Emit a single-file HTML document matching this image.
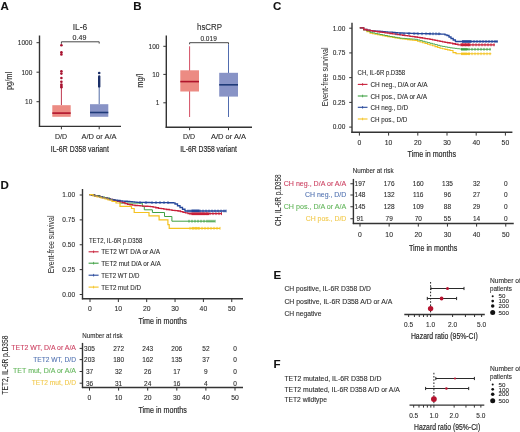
<!DOCTYPE html><html><head><meta charset="utf-8"><style>html,body{margin:0;padding:0;background:#fff;width:520px;height:432px;overflow:hidden}svg{display:block;filter:blur(0.4px)}text{font-family:"Liberation Sans",sans-serif;fill:currentColor;stroke:currentColor;stroke-width:0.1px}svg{color:#2b2b2b}</style></head><body>
<svg width="520" height="432" viewBox="0 0 520 432">
<text x="0.40" y="10.00" font-size="11.5" color="#111" font-weight="bold">A</text>
<text x="80.00" y="30.06" font-size="8.5" text-anchor="middle" textLength="14.6" lengthAdjust="spacingAndGlyphs">IL-6</text>
<text x="79.50" y="39.74" font-size="6.5" text-anchor="middle" textLength="13.8" lengthAdjust="spacingAndGlyphs">0.49</text>
<path d="M61.4,43.8 V41.8 H99.2 V43.6" fill="none" stroke="#333" stroke-width="0.9"/>
<line x1="39.50" y1="35.50" x2="39.50" y2="126.90" stroke="#333" stroke-width="1.4"/>
<line x1="38.90" y1="126.40" x2="121.00" y2="126.40" stroke="#333" stroke-width="1.4"/>
<line x1="36.50" y1="42.70" x2="39.50" y2="42.70" stroke="#333" stroke-width="1.0"/>
<text x="32.30" y="45.04" font-size="6.5" text-anchor="end">1000</text>
<line x1="36.50" y1="72.20" x2="39.50" y2="72.20" stroke="#333" stroke-width="1.0"/>
<text x="32.30" y="74.54" font-size="6.5" text-anchor="end">100</text>
<line x1="36.50" y1="101.70" x2="39.50" y2="101.70" stroke="#333" stroke-width="1.0"/>
<text x="32.30" y="104.04" font-size="6.5" text-anchor="end">10</text>
<line x1="61.40" y1="126.40" x2="61.40" y2="129.30" stroke="#333" stroke-width="1.0"/>
<line x1="99.20" y1="126.40" x2="99.20" y2="129.30" stroke="#333" stroke-width="1.0"/>
<text x="61.00" y="139.04" font-size="6.5" text-anchor="middle" textLength="12" lengthAdjust="spacingAndGlyphs">D/D</text>
<text x="99.00" y="138.84" font-size="6.5" text-anchor="middle" textLength="35" lengthAdjust="spacingAndGlyphs">A/D or A/A</text>
<text x="79.85" y="151.90" font-size="9.2" text-anchor="middle" textLength="58.1" lengthAdjust="spacingAndGlyphs" style="stroke-width:0.2px">IL-6R D358 variant</text>
<text x="0" y="0" font-size="9" text-anchor="middle" textLength="18.1" lengthAdjust="spacingAndGlyphs" transform="translate(11.7 80.95) rotate(-90)">pg/ml</text>
<line x1="61.40" y1="87.50" x2="61.40" y2="105.20" stroke="#b8243c" stroke-width="0.9"/>
<rect x="52.30" y="105.20" width="18.40" height="11.60" fill="#ec8b83"/>
<line x1="52.30" y1="113.10" x2="70.70" y2="113.10" stroke="#b0142c" stroke-width="1.6"/>
<circle cx="61.40" cy="45.20" r="1.3" fill="#a8122f"/>
<circle cx="61.40" cy="52.20" r="1.3" fill="#a8122f"/>
<circle cx="61.40" cy="54.40" r="1.3" fill="#a8122f"/>
<circle cx="61.40" cy="71.20" r="1.3" fill="#a8122f"/>
<circle cx="61.40" cy="73.60" r="1.3" fill="#a8122f"/>
<circle cx="61.40" cy="78.00" r="1.3" fill="#a8122f"/>
<circle cx="61.40" cy="81.80" r="1.3" fill="#a8122f"/>
<circle cx="61.40" cy="84.50" r="1.3" fill="#a8122f"/>
<circle cx="61.40" cy="85.90" r="1.3" fill="#a8122f"/>
<circle cx="61.40" cy="87.30" r="1.3" fill="#a8122f"/>
<line x1="99.20" y1="86.00" x2="99.20" y2="104.20" stroke="#3d5a9c" stroke-width="0.9"/>
<rect x="90.00" y="104.20" width="18.30" height="12.60" fill="#8893c6"/>
<line x1="90.00" y1="112.50" x2="108.30" y2="112.50" stroke="#1f3a78" stroke-width="1.6"/>
<circle cx="99.20" cy="73.00" r="1.3" fill="#1b2f68"/>
<line x1="99.2" y1="76.4" x2="99.2" y2="86.4" stroke="#1b2f68" stroke-width="2.4" stroke-linecap="round"/>
<text x="133.20" y="9.80" font-size="11.5" color="#111" font-weight="bold">B</text>
<text x="209.50" y="30.06" font-size="8.5" text-anchor="middle" textLength="25" lengthAdjust="spacingAndGlyphs">hsCRP</text>
<text x="208.60" y="40.74" font-size="6.5" text-anchor="middle" textLength="16.4" lengthAdjust="spacingAndGlyphs">0.019</text>
<path d="M189.6,44.3 V42.7 H228.5 V44.3" fill="none" stroke="#333" stroke-width="0.9"/>
<line x1="166.30" y1="35.40" x2="166.30" y2="127.90" stroke="#333" stroke-width="1.4"/>
<line x1="165.70" y1="127.30" x2="252.00" y2="127.30" stroke="#333" stroke-width="1.4"/>
<line x1="163.30" y1="46.30" x2="166.30" y2="46.30" stroke="#333" stroke-width="1.0"/>
<text x="159.40" y="48.64" font-size="6.5" text-anchor="end">100</text>
<line x1="163.30" y1="74.40" x2="166.30" y2="74.40" stroke="#333" stroke-width="1.0"/>
<text x="159.40" y="76.74" font-size="6.5" text-anchor="end">10</text>
<line x1="163.30" y1="102.80" x2="166.30" y2="102.80" stroke="#333" stroke-width="1.0"/>
<text x="159.40" y="105.14" font-size="6.5" text-anchor="end">1</text>
<line x1="189.60" y1="127.30" x2="189.60" y2="130.20" stroke="#333" stroke-width="1.0"/>
<line x1="228.50" y1="127.30" x2="228.50" y2="130.20" stroke="#333" stroke-width="1.0"/>
<text x="189.00" y="138.64" font-size="6.5" text-anchor="middle" textLength="12" lengthAdjust="spacingAndGlyphs">D/D</text>
<text x="228.50" y="138.64" font-size="6.5" text-anchor="middle" textLength="35" lengthAdjust="spacingAndGlyphs">A/D or A/A</text>
<text x="208.55" y="151.90" font-size="9.2" text-anchor="middle" textLength="56.7" lengthAdjust="spacingAndGlyphs" style="stroke-width:0.2px">IL-6R D358 variant</text>
<text x="0" y="0" font-size="9" text-anchor="middle" textLength="13.9" lengthAdjust="spacingAndGlyphs" transform="translate(142.7 80.75) rotate(-90)">mg/l</text>
<line x1="189.60" y1="46.30" x2="189.60" y2="117.00" stroke="#c8203a" stroke-width="0.8"/>
<rect x="180.30" y="70.30" width="18.70" height="21.20" fill="#ec8b83"/>
<line x1="180.30" y1="81.60" x2="199.00" y2="81.60" stroke="#b0142c" stroke-width="1.6"/>
<line x1="228.50" y1="44.30" x2="228.50" y2="117.00" stroke="#24469a" stroke-width="0.8"/>
<rect x="219.20" y="72.80" width="18.80" height="23.80" fill="#8893c6"/>
<line x1="219.20" y1="84.80" x2="238.00" y2="84.80" stroke="#1f3a78" stroke-width="1.6"/>
<text x="273.00" y="10.00" font-size="11.5" color="#111" font-weight="bold">C</text>
<line x1="352.00" y1="22.70" x2="352.00" y2="132.90" stroke="#333" stroke-width="1.4"/>
<line x1="351.40" y1="132.30" x2="512.40" y2="132.30" stroke="#333" stroke-width="1.4"/>
<line x1="349.20" y1="28.20" x2="352.00" y2="28.20" stroke="#333" stroke-width="1.0"/>
<text x="345.30" y="30.54" font-size="6.5" text-anchor="end">1.00</text>
<line x1="349.20" y1="52.92" x2="352.00" y2="52.92" stroke="#333" stroke-width="1.0"/>
<text x="345.30" y="55.26" font-size="6.5" text-anchor="end">0.75</text>
<line x1="349.20" y1="77.65" x2="352.00" y2="77.65" stroke="#333" stroke-width="1.0"/>
<text x="345.30" y="79.99" font-size="6.5" text-anchor="end">0.50</text>
<line x1="349.20" y1="102.38" x2="352.00" y2="102.38" stroke="#333" stroke-width="1.0"/>
<text x="345.30" y="104.72" font-size="6.5" text-anchor="end">0.25</text>
<line x1="349.20" y1="127.10" x2="352.00" y2="127.10" stroke="#333" stroke-width="1.0"/>
<text x="345.30" y="129.44" font-size="6.5" text-anchor="end">0.00</text>
<line x1="359.40" y1="132.30" x2="359.40" y2="135.60" stroke="#333" stroke-width="1.0"/>
<text x="359.40" y="144.75" font-size="6.8" text-anchor="middle">0</text>
<line x1="388.60" y1="132.30" x2="388.60" y2="135.60" stroke="#333" stroke-width="1.0"/>
<text x="388.60" y="144.75" font-size="6.8" text-anchor="middle">10</text>
<line x1="417.80" y1="132.30" x2="417.80" y2="135.60" stroke="#333" stroke-width="1.0"/>
<text x="417.80" y="144.75" font-size="6.8" text-anchor="middle">20</text>
<line x1="447.00" y1="132.30" x2="447.00" y2="135.60" stroke="#333" stroke-width="1.0"/>
<text x="447.00" y="144.75" font-size="6.8" text-anchor="middle">30</text>
<line x1="476.20" y1="132.30" x2="476.20" y2="135.60" stroke="#333" stroke-width="1.0"/>
<text x="476.20" y="144.75" font-size="6.8" text-anchor="middle">40</text>
<line x1="505.40" y1="132.30" x2="505.40" y2="135.60" stroke="#333" stroke-width="1.0"/>
<text x="505.40" y="144.75" font-size="6.8" text-anchor="middle">50</text>
<text x="431.80" y="157.00" font-size="9" text-anchor="middle" textLength="48.4" lengthAdjust="spacingAndGlyphs" style="stroke-width:0.2px">Time in months</text>
<text x="0" y="0" font-size="8.5" text-anchor="middle" textLength="58.8" lengthAdjust="spacingAndGlyphs" style="stroke-width:0" transform="translate(328 76.9) rotate(-90)">Event-free survival</text>
<text x="357.60" y="75.15" font-size="6.8" textLength="47.6" lengthAdjust="spacingAndGlyphs">CH, IL-6R p.D358</text>
<line x1="357.80" y1="84.40" x2="367.50" y2="84.40" stroke="#c8203a" stroke-width="1.1"/>
<line x1="362.60" y1="83.10" x2="362.60" y2="85.70" stroke="#c8203a" stroke-width="0.8"/>
<text x="370.40" y="86.99" font-size="7.2" textLength="57.2" lengthAdjust="spacingAndGlyphs">CH neg., D/A or A/A</text>
<line x1="357.80" y1="96.00" x2="367.50" y2="96.00" stroke="#3fa043" stroke-width="1.1"/>
<line x1="362.60" y1="94.70" x2="362.60" y2="97.30" stroke="#3fa043" stroke-width="0.8"/>
<text x="370.40" y="98.59" font-size="7.2" textLength="56.6" lengthAdjust="spacingAndGlyphs">CH pos., D/A or A/A</text>
<line x1="357.80" y1="107.30" x2="367.50" y2="107.30" stroke="#24469a" stroke-width="1.1"/>
<line x1="362.60" y1="106.00" x2="362.60" y2="108.60" stroke="#24469a" stroke-width="0.8"/>
<text x="370.40" y="109.89" font-size="7.2" textLength="37.6" lengthAdjust="spacingAndGlyphs">CH neg., D/D</text>
<line x1="357.80" y1="119.00" x2="367.50" y2="119.00" stroke="#f4c21f" stroke-width="1.1"/>
<line x1="362.60" y1="117.70" x2="362.60" y2="120.30" stroke="#f4c21f" stroke-width="0.8"/>
<text x="370.40" y="121.59" font-size="7.2" textLength="36.9" lengthAdjust="spacingAndGlyphs">CH pos., D/D</text>
<path d="M359.80,27.80 H363.70 V30.00 H366.85 V31.65 H370.00 V33.30 H372.50 V33.80 H375.00 V34.30 H377.50 V34.80 H380.00 V35.30 H382.50 V35.72 H385.00 V36.15 H387.50 V36.58 H390.00 V37.00 H392.50 V37.42 H395.00 V37.85 H397.50 V38.28 H400.00 V38.70 H402.50 V39.00 H405.00 V39.30 H407.50 V39.60 H410.00 V39.90 H412.50 V40.20 H415.00 V40.50 H417.50 V41.25 H420.00 V42.00 H422.50 V42.75 H425.00 V43.50 H427.50 V44.25 H430.00 V45.00 H432.50 V45.80 H435.00 V46.60 H437.50 V47.40 H440.00 V48.20 H442.50 V48.78 H445.00 V49.35 H447.50 V49.92 H450.00 V50.50 H453.00 V52.60 H456.00 V53.80 H491.30 V53.80" fill="none" stroke="#f4c21f" stroke-width="1.1"/>
<path d="M359.80,27.80 H363.70 V29.70 H366.85 V31.00 H370.00 V32.30 H372.50 V32.85 H375.00 V33.40 H377.50 V33.95 H380.00 V34.50 H382.50 V35.00 H385.00 V35.50 H387.50 V36.00 H390.00 V36.50 H392.50 V36.92 H395.00 V37.35 H397.50 V37.78 H400.00 V38.20 H402.50 V38.38 H405.00 V38.57 H407.50 V38.75 H410.00 V38.93 H412.50 V39.12 H415.00 V39.30 H417.50 V39.97 H420.00 V40.63 H422.50 V41.30 H425.00 V41.97 H427.50 V42.63 H430.00 V43.30 H432.50 V43.97 H435.00 V44.65 H437.50 V45.33 H440.00 V46.00 H442.50 V46.45 H445.00 V46.90 H447.50 V47.35 H450.00 V47.80 H452.40 V48.10 H454.80 V48.40 H457.20 V48.70 H459.60 V49.00 H462.00 V49.30 H490.80 V49.30" fill="none" stroke="#3fa043" stroke-width="0.9"/>
<path d="M359.80,27.80 H363.70 V29.50 H366.85 V30.05 H370.00 V30.60 H372.50 V30.83 H375.00 V31.05 H377.50 V31.27 H380.00 V31.50 H382.50 V31.68 H385.00 V31.85 H387.50 V32.03 H390.00 V32.20 H392.50 V32.40 H395.00 V32.60 H397.50 V32.80 H400.00 V33.00 H402.50 V33.08 H405.00 V33.17 H407.50 V33.25 H410.00 V33.33 H412.50 V33.42 H415.00 V33.50 H417.55 V33.55 H420.09 V33.61 H422.64 V33.66 H425.18 V33.72 H427.73 V33.77 H430.27 V33.83 H432.82 V33.88 H435.36 V33.94 H437.91 V33.99 H440.45 V34.05 H443.00 V34.10 H445.00 V34.80 H447.00 V35.50 H449.00 V37.00 H451.00 V38.50 H453.20 V40.00 H455.40 V41.50 H497.70 V41.50" fill="none" stroke="#24469a" stroke-width="1.3"/>
<path d="M359.80,27.80 H363.70 V29.50 H366.85 V30.10 H370.00 V30.70 H372.50 V31.05 H375.00 V31.40 H377.50 V31.75 H380.00 V32.10 H382.50 V32.45 H385.00 V32.80 H387.50 V33.15 H390.00 V33.50 H392.50 V33.85 H395.00 V34.20 H397.50 V34.55 H400.00 V34.90 H402.50 V35.25 H405.00 V35.60 H407.50 V35.95 H410.00 V36.30 H412.50 V36.65 H415.00 V37.00 H417.50 V37.38 H420.00 V37.77 H422.50 V38.15 H425.00 V38.53 H427.50 V38.92 H430.00 V39.30 H432.50 V39.82 H435.00 V40.35 H437.50 V40.88 H440.00 V41.40 H442.50 V41.85 H445.00 V42.30 H447.50 V42.75 H450.00 V43.20 H452.67 V43.73 H455.33 V44.27 H458.00 V44.80 H494.80 V44.80" fill="none" stroke="#c8203a" stroke-width="1.3"/>
<line x1="461.00" y1="44.80" x2="470.00" y2="44.80" stroke="#c8203a" stroke-width="2.6"/>
<line x1="462.00" y1="41.50" x2="471.00" y2="41.50" stroke="#24469a" stroke-width="2.2"/>
<line x1="461.00" y1="49.30" x2="468.00" y2="49.30" stroke="#3fa043" stroke-width="2.0"/>
<line x1="461.00" y1="53.80" x2="470.00" y2="53.80" stroke="#f4c21f" stroke-width="2.0"/>
<line x1="462.00" y1="47.90" x2="462.00" y2="50.70" stroke="#3fa043" stroke-width="0.9"/>
<line x1="464.00" y1="47.90" x2="464.00" y2="50.70" stroke="#3fa043" stroke-width="0.9"/>
<line x1="466.00" y1="47.90" x2="466.00" y2="50.70" stroke="#3fa043" stroke-width="0.9"/>
<line x1="469.00" y1="47.90" x2="469.00" y2="50.70" stroke="#3fa043" stroke-width="0.9"/>
<line x1="472.00" y1="47.90" x2="472.00" y2="50.70" stroke="#3fa043" stroke-width="0.9"/>
<line x1="475.00" y1="47.90" x2="475.00" y2="50.70" stroke="#3fa043" stroke-width="0.9"/>
<line x1="478.00" y1="47.90" x2="478.00" y2="50.70" stroke="#3fa043" stroke-width="0.9"/>
<line x1="481.00" y1="47.90" x2="481.00" y2="50.70" stroke="#3fa043" stroke-width="0.9"/>
<line x1="484.00" y1="47.90" x2="484.00" y2="50.70" stroke="#3fa043" stroke-width="0.9"/>
<line x1="487.00" y1="47.90" x2="487.00" y2="50.70" stroke="#3fa043" stroke-width="0.9"/>
<line x1="490.00" y1="47.90" x2="490.00" y2="50.70" stroke="#3fa043" stroke-width="0.9"/>
<line x1="462.00" y1="52.40" x2="462.00" y2="55.20" stroke="#f4c21f" stroke-width="0.9"/>
<line x1="464.00" y1="52.40" x2="464.00" y2="55.20" stroke="#f4c21f" stroke-width="0.9"/>
<line x1="466.00" y1="52.40" x2="466.00" y2="55.20" stroke="#f4c21f" stroke-width="0.9"/>
<line x1="469.00" y1="52.40" x2="469.00" y2="55.20" stroke="#f4c21f" stroke-width="0.9"/>
<line x1="472.00" y1="52.40" x2="472.00" y2="55.20" stroke="#f4c21f" stroke-width="0.9"/>
<line x1="475.00" y1="52.40" x2="475.00" y2="55.20" stroke="#f4c21f" stroke-width="0.9"/>
<line x1="478.00" y1="52.40" x2="478.00" y2="55.20" stroke="#f4c21f" stroke-width="0.9"/>
<line x1="481.00" y1="52.40" x2="481.00" y2="55.20" stroke="#f4c21f" stroke-width="0.9"/>
<line x1="484.00" y1="52.40" x2="484.00" y2="55.20" stroke="#f4c21f" stroke-width="0.9"/>
<line x1="487.00" y1="52.40" x2="487.00" y2="55.20" stroke="#f4c21f" stroke-width="0.9"/>
<line x1="490.00" y1="52.40" x2="490.00" y2="55.20" stroke="#f4c21f" stroke-width="0.9"/>
<line x1="461.00" y1="43.30" x2="461.00" y2="46.30" stroke="#c8203a" stroke-width="0.9"/>
<line x1="462.50" y1="43.30" x2="462.50" y2="46.30" stroke="#c8203a" stroke-width="0.9"/>
<line x1="464.00" y1="43.30" x2="464.00" y2="46.30" stroke="#c8203a" stroke-width="0.9"/>
<line x1="465.50" y1="43.30" x2="465.50" y2="46.30" stroke="#c8203a" stroke-width="0.9"/>
<line x1="467.00" y1="43.30" x2="467.00" y2="46.30" stroke="#c8203a" stroke-width="0.9"/>
<line x1="468.50" y1="43.30" x2="468.50" y2="46.30" stroke="#c8203a" stroke-width="0.9"/>
<line x1="470.00" y1="43.30" x2="470.00" y2="46.30" stroke="#c8203a" stroke-width="0.9"/>
<line x1="473.00" y1="43.30" x2="473.00" y2="46.30" stroke="#c8203a" stroke-width="0.9"/>
<line x1="476.00" y1="43.30" x2="476.00" y2="46.30" stroke="#c8203a" stroke-width="0.9"/>
<line x1="479.00" y1="43.30" x2="479.00" y2="46.30" stroke="#c8203a" stroke-width="0.9"/>
<line x1="482.00" y1="43.30" x2="482.00" y2="46.30" stroke="#c8203a" stroke-width="0.9"/>
<line x1="485.00" y1="43.30" x2="485.00" y2="46.30" stroke="#c8203a" stroke-width="0.9"/>
<line x1="488.00" y1="43.30" x2="488.00" y2="46.30" stroke="#c8203a" stroke-width="0.9"/>
<line x1="491.00" y1="43.30" x2="491.00" y2="46.30" stroke="#c8203a" stroke-width="0.9"/>
<line x1="494.00" y1="43.30" x2="494.00" y2="46.30" stroke="#c8203a" stroke-width="0.9"/>
<line x1="396.00" y1="32.40" x2="396.00" y2="35.20" stroke="#24469a" stroke-width="0.9"/>
<line x1="400.00" y1="32.40" x2="400.00" y2="35.20" stroke="#24469a" stroke-width="0.9"/>
<line x1="404.00" y1="32.40" x2="404.00" y2="35.20" stroke="#24469a" stroke-width="0.9"/>
<line x1="409.00" y1="32.40" x2="409.00" y2="35.20" stroke="#24469a" stroke-width="0.9"/>
<line x1="414.00" y1="32.40" x2="414.00" y2="35.20" stroke="#24469a" stroke-width="0.9"/>
<line x1="418.00" y1="32.40" x2="418.00" y2="35.20" stroke="#24469a" stroke-width="0.9"/>
<line x1="422.00" y1="32.40" x2="422.00" y2="35.20" stroke="#24469a" stroke-width="0.9"/>
<line x1="426.00" y1="32.40" x2="426.00" y2="35.20" stroke="#24469a" stroke-width="0.9"/>
<line x1="430.00" y1="32.40" x2="430.00" y2="35.20" stroke="#24469a" stroke-width="0.9"/>
<line x1="433.00" y1="32.40" x2="433.00" y2="35.20" stroke="#24469a" stroke-width="0.9"/>
<line x1="436.00" y1="32.40" x2="436.00" y2="35.20" stroke="#24469a" stroke-width="0.9"/>
<line x1="439.00" y1="32.40" x2="439.00" y2="35.20" stroke="#24469a" stroke-width="0.9"/>
<line x1="463.00" y1="40.10" x2="463.00" y2="42.90" stroke="#24469a" stroke-width="0.9"/>
<line x1="465.00" y1="40.10" x2="465.00" y2="42.90" stroke="#24469a" stroke-width="0.9"/>
<line x1="467.00" y1="40.10" x2="467.00" y2="42.90" stroke="#24469a" stroke-width="0.9"/>
<line x1="469.00" y1="40.10" x2="469.00" y2="42.90" stroke="#24469a" stroke-width="0.9"/>
<line x1="471.00" y1="40.10" x2="471.00" y2="42.90" stroke="#24469a" stroke-width="0.9"/>
<line x1="474.00" y1="40.10" x2="474.00" y2="42.90" stroke="#24469a" stroke-width="0.9"/>
<line x1="477.00" y1="40.10" x2="477.00" y2="42.90" stroke="#24469a" stroke-width="0.9"/>
<line x1="480.00" y1="40.10" x2="480.00" y2="42.90" stroke="#24469a" stroke-width="0.9"/>
<line x1="483.00" y1="40.10" x2="483.00" y2="42.90" stroke="#24469a" stroke-width="0.9"/>
<line x1="486.00" y1="40.10" x2="486.00" y2="42.90" stroke="#24469a" stroke-width="0.9"/>
<line x1="489.00" y1="40.10" x2="489.00" y2="42.90" stroke="#24469a" stroke-width="0.9"/>
<line x1="492.00" y1="40.10" x2="492.00" y2="42.90" stroke="#24469a" stroke-width="0.9"/>
<line x1="495.00" y1="40.10" x2="495.00" y2="42.90" stroke="#24469a" stroke-width="0.9"/>
<line x1="497.00" y1="40.10" x2="497.00" y2="42.90" stroke="#24469a" stroke-width="0.9"/>
<text x="373.20" y="173.34" font-size="6.5" text-anchor="middle" textLength="40.8" lengthAdjust="spacingAndGlyphs">Number at risk</text>
<line x1="353.40" y1="178.90" x2="353.40" y2="224.10" stroke="#333" stroke-width="1.4"/>
<line x1="352.80" y1="223.50" x2="513.75" y2="223.50" stroke="#333" stroke-width="1.4"/>
<line x1="350.40" y1="183.75" x2="353.40" y2="183.75" stroke="#333" stroke-width="1.0"/>
<text x="346.30" y="185.92" font-size="7" text-anchor="end" color="#cc4262" textLength="62.6" lengthAdjust="spacingAndGlyphs">CH neg., D/A or A/A</text>
<text x="360.00" y="186.09" font-size="6.5" text-anchor="middle">197</text>
<text x="389.15" y="186.09" font-size="6.5" text-anchor="middle">176</text>
<text x="418.30" y="186.09" font-size="6.5" text-anchor="middle">160</text>
<text x="447.45" y="186.09" font-size="6.5" text-anchor="middle">135</text>
<text x="476.60" y="186.09" font-size="6.5" text-anchor="middle">32</text>
<text x="505.75" y="186.09" font-size="6.5" text-anchor="middle">0</text>
<line x1="350.40" y1="195.00" x2="353.40" y2="195.00" stroke="#333" stroke-width="1.0"/>
<text x="346.30" y="197.22" font-size="7" text-anchor="end" color="#5474b2" textLength="41.3" lengthAdjust="spacingAndGlyphs">CH neg., D/D</text>
<text x="360.00" y="197.34" font-size="6.5" text-anchor="middle">148</text>
<text x="389.15" y="197.34" font-size="6.5" text-anchor="middle">132</text>
<text x="418.30" y="197.34" font-size="6.5" text-anchor="middle">116</text>
<text x="447.45" y="197.34" font-size="6.5" text-anchor="middle">96</text>
<text x="476.60" y="197.34" font-size="6.5" text-anchor="middle">27</text>
<text x="505.75" y="197.34" font-size="6.5" text-anchor="middle">0</text>
<line x1="350.40" y1="206.75" x2="353.40" y2="206.75" stroke="#333" stroke-width="1.0"/>
<text x="346.30" y="209.32" font-size="7" text-anchor="end" color="#62b55a" textLength="62.6" lengthAdjust="spacingAndGlyphs">CH pos., D/A or A/A</text>
<text x="360.00" y="209.09" font-size="6.5" text-anchor="middle">145</text>
<text x="389.15" y="209.09" font-size="6.5" text-anchor="middle">128</text>
<text x="418.30" y="209.09" font-size="6.5" text-anchor="middle">109</text>
<text x="447.45" y="209.09" font-size="6.5" text-anchor="middle">88</text>
<text x="476.60" y="209.09" font-size="6.5" text-anchor="middle">29</text>
<text x="505.75" y="209.09" font-size="6.5" text-anchor="middle">0</text>
<line x1="350.40" y1="218.75" x2="353.40" y2="218.75" stroke="#333" stroke-width="1.0"/>
<text x="346.30" y="220.82" font-size="7" text-anchor="end" color="#f1c94c" textLength="40.6" lengthAdjust="spacingAndGlyphs">CH pos., D/D</text>
<text x="360.00" y="221.09" font-size="6.5" text-anchor="middle">91</text>
<text x="389.15" y="221.09" font-size="6.5" text-anchor="middle">79</text>
<text x="418.30" y="221.09" font-size="6.5" text-anchor="middle">70</text>
<text x="447.45" y="221.09" font-size="6.5" text-anchor="middle">55</text>
<text x="476.60" y="221.09" font-size="6.5" text-anchor="middle">14</text>
<text x="505.75" y="221.09" font-size="6.5" text-anchor="middle">0</text>
<line x1="360.00" y1="223.50" x2="360.00" y2="226.60" stroke="#333" stroke-width="1.0"/>
<text x="360.00" y="237.15" font-size="6.8" text-anchor="middle">0</text>
<line x1="389.15" y1="223.50" x2="389.15" y2="226.60" stroke="#333" stroke-width="1.0"/>
<text x="389.15" y="237.15" font-size="6.8" text-anchor="middle">10</text>
<line x1="418.30" y1="223.50" x2="418.30" y2="226.60" stroke="#333" stroke-width="1.0"/>
<text x="418.30" y="237.15" font-size="6.8" text-anchor="middle">20</text>
<line x1="447.45" y1="223.50" x2="447.45" y2="226.60" stroke="#333" stroke-width="1.0"/>
<text x="447.45" y="237.15" font-size="6.8" text-anchor="middle">30</text>
<line x1="476.60" y1="223.50" x2="476.60" y2="226.60" stroke="#333" stroke-width="1.0"/>
<text x="476.60" y="237.15" font-size="6.8" text-anchor="middle">40</text>
<line x1="505.75" y1="223.50" x2="505.75" y2="226.60" stroke="#333" stroke-width="1.0"/>
<text x="505.75" y="237.15" font-size="6.8" text-anchor="middle">50</text>
<text x="433.05" y="250.60" font-size="9" text-anchor="middle" textLength="48.3" lengthAdjust="spacingAndGlyphs" style="stroke-width:0.2px">Time in months</text>
<text x="0" y="0" font-size="9.3" text-anchor="middle" textLength="51.7" lengthAdjust="spacingAndGlyphs" transform="translate(280.7 200.15) rotate(-90)">CH, IL-6R p.D358</text>
<text x="0.40" y="188.80" font-size="11.5" color="#111" font-weight="bold">D</text>
<line x1="82.50" y1="189.00" x2="82.50" y2="299.35" stroke="#333" stroke-width="1.4"/>
<line x1="81.90" y1="298.75" x2="243.00" y2="298.75" stroke="#333" stroke-width="1.4"/>
<line x1="79.70" y1="195.00" x2="82.50" y2="195.00" stroke="#333" stroke-width="1.0"/>
<text x="75.00" y="197.34" font-size="6.5" text-anchor="end">1.00</text>
<line x1="79.70" y1="219.88" x2="82.50" y2="219.88" stroke="#333" stroke-width="1.0"/>
<text x="75.00" y="222.22" font-size="6.5" text-anchor="end">0.75</text>
<line x1="79.70" y1="244.75" x2="82.50" y2="244.75" stroke="#333" stroke-width="1.0"/>
<text x="75.00" y="247.09" font-size="6.5" text-anchor="end">0.50</text>
<line x1="79.70" y1="269.62" x2="82.50" y2="269.62" stroke="#333" stroke-width="1.0"/>
<text x="75.00" y="271.96" font-size="6.5" text-anchor="end">0.25</text>
<line x1="79.70" y1="294.50" x2="82.50" y2="294.50" stroke="#333" stroke-width="1.0"/>
<text x="75.00" y="296.84" font-size="6.5" text-anchor="end">0.00</text>
<line x1="90.00" y1="298.75" x2="90.00" y2="302.05" stroke="#333" stroke-width="1.0"/>
<text x="90.00" y="311.45" font-size="6.8" text-anchor="middle">0</text>
<line x1="118.35" y1="298.75" x2="118.35" y2="302.05" stroke="#333" stroke-width="1.0"/>
<text x="118.35" y="311.45" font-size="6.8" text-anchor="middle">10</text>
<line x1="146.70" y1="298.75" x2="146.70" y2="302.05" stroke="#333" stroke-width="1.0"/>
<text x="146.70" y="311.45" font-size="6.8" text-anchor="middle">20</text>
<line x1="175.05" y1="298.75" x2="175.05" y2="302.05" stroke="#333" stroke-width="1.0"/>
<text x="175.05" y="311.45" font-size="6.8" text-anchor="middle">30</text>
<line x1="203.40" y1="298.75" x2="203.40" y2="302.05" stroke="#333" stroke-width="1.0"/>
<text x="203.40" y="311.45" font-size="6.8" text-anchor="middle">40</text>
<line x1="231.75" y1="298.75" x2="231.75" y2="302.05" stroke="#333" stroke-width="1.0"/>
<text x="231.75" y="311.45" font-size="6.8" text-anchor="middle">50</text>
<text x="162.65" y="323.80" font-size="9" text-anchor="middle" textLength="48.5" lengthAdjust="spacingAndGlyphs" style="stroke-width:0.2px">Time in months</text>
<text x="0" y="0" font-size="8.5" text-anchor="middle" textLength="57.8" lengthAdjust="spacingAndGlyphs" style="stroke-width:0" transform="translate(54.4 244.4) rotate(-90)">Event-free survival</text>
<text x="88.90" y="242.85" font-size="6.8" textLength="53.4" lengthAdjust="spacingAndGlyphs">TET2, IL-6R p.D358</text>
<line x1="88.60" y1="251.80" x2="98.60" y2="251.80" stroke="#c8203a" stroke-width="1.1"/>
<line x1="93.60" y1="250.50" x2="93.60" y2="253.10" stroke="#c8203a" stroke-width="0.8"/>
<text x="101.20" y="254.39" font-size="7.2" textLength="58.8" lengthAdjust="spacingAndGlyphs">TET2 WT D/A or A/A</text>
<line x1="88.60" y1="263.20" x2="98.60" y2="263.20" stroke="#3fa043" stroke-width="1.1"/>
<line x1="93.60" y1="261.90" x2="93.60" y2="264.50" stroke="#3fa043" stroke-width="0.8"/>
<text x="101.20" y="265.79" font-size="7.2" textLength="59.6" lengthAdjust="spacingAndGlyphs">TET2 mut D/A or A/A</text>
<line x1="88.60" y1="275.20" x2="98.60" y2="275.20" stroke="#24469a" stroke-width="1.1"/>
<line x1="93.60" y1="273.90" x2="93.60" y2="276.50" stroke="#24469a" stroke-width="0.8"/>
<text x="101.20" y="277.79" font-size="7.2" textLength="38.2" lengthAdjust="spacingAndGlyphs">TET2 WT D/D</text>
<line x1="88.60" y1="287.10" x2="98.60" y2="287.10" stroke="#f4c21f" stroke-width="1.1"/>
<line x1="93.60" y1="285.80" x2="93.60" y2="288.40" stroke="#f4c21f" stroke-width="0.8"/>
<text x="101.20" y="289.69" font-size="7.2" textLength="39.7" lengthAdjust="spacingAndGlyphs">TET2 mut D/D</text>
<path d="M89.30,194.70 H95.00 V195.50 H100.00 V197.00 H105.00 V198.00 H110.00 V199.50 H115.00 V201.20 H120.00 V203.10 H142.30 V206.40 H144.30 V209.80 H152.40 V212.50 H164.50 V216.50 H171.90 V221.20 H215.00 V221.20" fill="none" stroke="#3fa043" stroke-width="1.0"/>
<path d="M89.30,194.70 H91.97 V195.27 H94.65 V195.85 H97.33 V196.43 H100.00 V197.00 H102.50 V197.62 H105.00 V198.25 H107.50 V198.88 H110.00 V199.50 H112.50 V200.07 H115.00 V200.65 H117.50 V201.23 H120.00 V201.80 H122.50 V202.67 H125.00 V203.53 H127.50 V204.40 H130.00 V204.77 H132.50 V205.13 H135.00 V205.50 H137.57 V205.68 H140.13 V205.87 H142.70 V206.05 H145.27 V206.23 H147.83 V206.42 H150.40 V206.60 H153.10 V207.17 H155.80 V207.73 H158.50 V208.30 H161.17 V208.70 H163.83 V209.10 H166.50 V209.50 H169.25 V209.90 H172.00 V210.30 H175.00 V210.65 H178.00 V211.00 H180.50 V211.65 H183.00 V212.30 H185.50 V212.95 H188.00 V213.60 H221.80 V213.60" fill="none" stroke="#c8203a" stroke-width="1.3"/>
<path d="M89.30,194.70 H91.97 V195.27 H94.65 V195.85 H97.33 V196.43 H100.00 V197.00 H102.50 V197.62 H105.00 V198.25 H107.50 V198.88 H110.00 V199.50 H112.50 V199.82 H115.00 V200.15 H117.50 V200.48 H120.00 V200.80 H122.43 V201.03 H124.86 V201.26 H127.29 V201.49 H129.71 V201.71 H132.14 V201.94 H134.57 V202.17 H137.00 V202.40 H139.59 V202.43 H142.19 V202.46 H144.78 V202.49 H147.37 V202.51 H149.96 V202.54 H152.56 V202.57 H155.15 V202.60 H157.74 V202.63 H160.34 V202.66 H162.93 V202.69 H165.52 V202.71 H168.11 V202.74 H170.71 V202.77 H173.30 V202.80 H175.00 V204.00 H177.50 V205.75 H180.00 V207.50 H182.50 V209.25 H185.00 V211.00 H226.20 V211.00" fill="none" stroke="#24469a" stroke-width="1.3"/>
<path d="M89.30,194.70 H93.00 V196.00 H97.00 V197.00 H101.00 V198.00 H105.00 V199.00 H108.00 V200.00 H112.00 V201.50 H116.00 V203.00 H120.00 V206.40 H131.50 V208.50 H134.20 V212.50 H149.00 V215.90 H159.10 V219.90 H167.90 V224.60 H169.20 V228.30 H220.00 V228.30" fill="none" stroke="#f4c21f" stroke-width="1.2"/>
<line x1="191.50" y1="213.80" x2="209.00" y2="213.80" stroke="#c8203a" stroke-width="2.6"/>
<line x1="191.50" y1="210.80" x2="199.50" y2="210.80" stroke="#24469a" stroke-width="2.4"/>
<line x1="191.50" y1="228.30" x2="199.50" y2="228.30" stroke="#f4c21f" stroke-width="2.0"/>
<line x1="189.00" y1="219.80" x2="189.00" y2="222.60" stroke="#3fa043" stroke-width="0.9"/>
<line x1="192.00" y1="219.80" x2="192.00" y2="222.60" stroke="#3fa043" stroke-width="0.9"/>
<line x1="195.00" y1="219.80" x2="195.00" y2="222.60" stroke="#3fa043" stroke-width="0.9"/>
<line x1="198.00" y1="219.80" x2="198.00" y2="222.60" stroke="#3fa043" stroke-width="0.9"/>
<line x1="201.00" y1="219.80" x2="201.00" y2="222.60" stroke="#3fa043" stroke-width="0.9"/>
<line x1="204.00" y1="219.80" x2="204.00" y2="222.60" stroke="#3fa043" stroke-width="0.9"/>
<line x1="207.00" y1="219.80" x2="207.00" y2="222.60" stroke="#3fa043" stroke-width="0.9"/>
<line x1="209.00" y1="219.80" x2="209.00" y2="222.60" stroke="#3fa043" stroke-width="0.9"/>
<line x1="211.00" y1="219.80" x2="211.00" y2="222.60" stroke="#3fa043" stroke-width="0.9"/>
<line x1="213.00" y1="219.80" x2="213.00" y2="222.60" stroke="#3fa043" stroke-width="0.9"/>
<line x1="215.00" y1="219.80" x2="215.00" y2="222.60" stroke="#3fa043" stroke-width="0.9"/>
<line x1="190.00" y1="226.90" x2="190.00" y2="229.70" stroke="#f4c21f" stroke-width="0.9"/>
<line x1="193.00" y1="226.90" x2="193.00" y2="229.70" stroke="#f4c21f" stroke-width="0.9"/>
<line x1="196.00" y1="226.90" x2="196.00" y2="229.70" stroke="#f4c21f" stroke-width="0.9"/>
<line x1="199.00" y1="226.90" x2="199.00" y2="229.70" stroke="#f4c21f" stroke-width="0.9"/>
<line x1="202.00" y1="226.90" x2="202.00" y2="229.70" stroke="#f4c21f" stroke-width="0.9"/>
<line x1="205.00" y1="226.90" x2="205.00" y2="229.70" stroke="#f4c21f" stroke-width="0.9"/>
<line x1="208.00" y1="226.90" x2="208.00" y2="229.70" stroke="#f4c21f" stroke-width="0.9"/>
<line x1="211.00" y1="226.90" x2="211.00" y2="229.70" stroke="#f4c21f" stroke-width="0.9"/>
<line x1="214.00" y1="226.90" x2="214.00" y2="229.70" stroke="#f4c21f" stroke-width="0.9"/>
<line x1="217.00" y1="226.90" x2="217.00" y2="229.70" stroke="#f4c21f" stroke-width="0.9"/>
<line x1="220.00" y1="226.90" x2="220.00" y2="229.70" stroke="#f4c21f" stroke-width="0.9"/>
<line x1="190.00" y1="212.10" x2="190.00" y2="215.10" stroke="#c8203a" stroke-width="0.9"/>
<line x1="192.00" y1="212.10" x2="192.00" y2="215.10" stroke="#c8203a" stroke-width="0.9"/>
<line x1="194.00" y1="212.10" x2="194.00" y2="215.10" stroke="#c8203a" stroke-width="0.9"/>
<line x1="196.00" y1="212.10" x2="196.00" y2="215.10" stroke="#c8203a" stroke-width="0.9"/>
<line x1="198.00" y1="212.10" x2="198.00" y2="215.10" stroke="#c8203a" stroke-width="0.9"/>
<line x1="200.00" y1="212.10" x2="200.00" y2="215.10" stroke="#c8203a" stroke-width="0.9"/>
<line x1="202.00" y1="212.10" x2="202.00" y2="215.10" stroke="#c8203a" stroke-width="0.9"/>
<line x1="204.00" y1="212.10" x2="204.00" y2="215.10" stroke="#c8203a" stroke-width="0.9"/>
<line x1="207.00" y1="212.10" x2="207.00" y2="215.10" stroke="#c8203a" stroke-width="0.9"/>
<line x1="210.00" y1="212.10" x2="210.00" y2="215.10" stroke="#c8203a" stroke-width="0.9"/>
<line x1="213.00" y1="212.10" x2="213.00" y2="215.10" stroke="#c8203a" stroke-width="0.9"/>
<line x1="216.00" y1="212.10" x2="216.00" y2="215.10" stroke="#c8203a" stroke-width="0.9"/>
<line x1="219.00" y1="212.10" x2="219.00" y2="215.10" stroke="#c8203a" stroke-width="0.9"/>
<line x1="221.50" y1="212.10" x2="221.50" y2="215.10" stroke="#c8203a" stroke-width="0.9"/>
<line x1="140.00" y1="201.20" x2="140.00" y2="204.00" stroke="#24469a" stroke-width="0.9"/>
<line x1="146.00" y1="201.20" x2="146.00" y2="204.00" stroke="#24469a" stroke-width="0.9"/>
<line x1="152.00" y1="201.20" x2="152.00" y2="204.00" stroke="#24469a" stroke-width="0.9"/>
<line x1="156.00" y1="201.20" x2="156.00" y2="204.00" stroke="#24469a" stroke-width="0.9"/>
<line x1="160.00" y1="201.20" x2="160.00" y2="204.00" stroke="#24469a" stroke-width="0.9"/>
<line x1="164.00" y1="201.20" x2="164.00" y2="204.00" stroke="#24469a" stroke-width="0.9"/>
<line x1="168.00" y1="201.20" x2="168.00" y2="204.00" stroke="#24469a" stroke-width="0.9"/>
<line x1="188.00" y1="209.60" x2="188.00" y2="212.40" stroke="#24469a" stroke-width="0.9"/>
<line x1="190.00" y1="209.60" x2="190.00" y2="212.40" stroke="#24469a" stroke-width="0.9"/>
<line x1="192.00" y1="209.60" x2="192.00" y2="212.40" stroke="#24469a" stroke-width="0.9"/>
<line x1="194.00" y1="209.60" x2="194.00" y2="212.40" stroke="#24469a" stroke-width="0.9"/>
<line x1="196.00" y1="209.60" x2="196.00" y2="212.40" stroke="#24469a" stroke-width="0.9"/>
<line x1="198.00" y1="209.60" x2="198.00" y2="212.40" stroke="#24469a" stroke-width="0.9"/>
<line x1="200.00" y1="209.60" x2="200.00" y2="212.40" stroke="#24469a" stroke-width="0.9"/>
<line x1="203.00" y1="209.60" x2="203.00" y2="212.40" stroke="#24469a" stroke-width="0.9"/>
<line x1="206.00" y1="209.60" x2="206.00" y2="212.40" stroke="#24469a" stroke-width="0.9"/>
<line x1="209.00" y1="209.60" x2="209.00" y2="212.40" stroke="#24469a" stroke-width="0.9"/>
<line x1="212.00" y1="209.60" x2="212.00" y2="212.40" stroke="#24469a" stroke-width="0.9"/>
<line x1="215.00" y1="209.60" x2="215.00" y2="212.40" stroke="#24469a" stroke-width="0.9"/>
<line x1="218.00" y1="209.60" x2="218.00" y2="212.40" stroke="#24469a" stroke-width="0.9"/>
<line x1="221.00" y1="209.60" x2="221.00" y2="212.40" stroke="#24469a" stroke-width="0.9"/>
<line x1="224.00" y1="209.60" x2="224.00" y2="212.40" stroke="#24469a" stroke-width="0.9"/>
<line x1="226.00" y1="209.60" x2="226.00" y2="212.40" stroke="#24469a" stroke-width="0.9"/>
<text x="102.50" y="337.74" font-size="6.5" text-anchor="middle" textLength="40.4" lengthAdjust="spacingAndGlyphs">Number at risk</text>
<line x1="82.50" y1="342.90" x2="82.50" y2="388.10" stroke="#333" stroke-width="1.4"/>
<line x1="81.90" y1="387.50" x2="243.00" y2="387.50" stroke="#333" stroke-width="1.4"/>
<line x1="79.60" y1="348.40" x2="82.50" y2="348.40" stroke="#333" stroke-width="1.0"/>
<text x="76.00" y="349.82" font-size="7" text-anchor="end" color="#cc4262" textLength="64.7" lengthAdjust="spacingAndGlyphs">TET2 WT, D/A or A/A</text>
<text x="89.50" y="350.74" font-size="6.5" text-anchor="middle">305</text>
<text x="118.60" y="350.74" font-size="6.5" text-anchor="middle">272</text>
<text x="147.70" y="350.74" font-size="6.5" text-anchor="middle">243</text>
<text x="176.80" y="350.74" font-size="6.5" text-anchor="middle">206</text>
<text x="205.90" y="350.74" font-size="6.5" text-anchor="middle">52</text>
<text x="235.00" y="350.74" font-size="6.5" text-anchor="middle">0</text>
<line x1="79.60" y1="359.60" x2="82.50" y2="359.60" stroke="#333" stroke-width="1.0"/>
<text x="76.00" y="361.62" font-size="7" text-anchor="end" color="#5474b2" textLength="42.8" lengthAdjust="spacingAndGlyphs">TET2 WT, D/D</text>
<text x="89.50" y="361.94" font-size="6.5" text-anchor="middle">203</text>
<text x="118.60" y="361.94" font-size="6.5" text-anchor="middle">180</text>
<text x="147.70" y="361.94" font-size="6.5" text-anchor="middle">162</text>
<text x="176.80" y="361.94" font-size="6.5" text-anchor="middle">135</text>
<text x="205.90" y="361.94" font-size="6.5" text-anchor="middle">37</text>
<text x="235.00" y="361.94" font-size="6.5" text-anchor="middle">0</text>
<line x1="79.60" y1="371.50" x2="82.50" y2="371.50" stroke="#333" stroke-width="1.0"/>
<text x="76.00" y="373.42" font-size="7" text-anchor="end" color="#62b55a" textLength="62.9" lengthAdjust="spacingAndGlyphs">TET mut, D/A or A/A</text>
<text x="89.50" y="373.84" font-size="6.5" text-anchor="middle">37</text>
<text x="118.60" y="373.84" font-size="6.5" text-anchor="middle">32</text>
<text x="147.70" y="373.84" font-size="6.5" text-anchor="middle">26</text>
<text x="176.80" y="373.84" font-size="6.5" text-anchor="middle">17</text>
<text x="205.90" y="373.84" font-size="6.5" text-anchor="middle">9</text>
<text x="235.00" y="373.84" font-size="6.5" text-anchor="middle">0</text>
<line x1="79.60" y1="383.20" x2="82.50" y2="383.20" stroke="#333" stroke-width="1.0"/>
<text x="76.00" y="385.22" font-size="7" text-anchor="end" color="#f1c94c" textLength="44.2" lengthAdjust="spacingAndGlyphs">TET2 mut, D/D</text>
<text x="89.50" y="385.54" font-size="6.5" text-anchor="middle">36</text>
<text x="118.60" y="385.54" font-size="6.5" text-anchor="middle">31</text>
<text x="147.70" y="385.54" font-size="6.5" text-anchor="middle">24</text>
<text x="176.80" y="385.54" font-size="6.5" text-anchor="middle">16</text>
<text x="205.90" y="385.54" font-size="6.5" text-anchor="middle">4</text>
<text x="235.00" y="385.54" font-size="6.5" text-anchor="middle">0</text>
<line x1="89.50" y1="387.50" x2="89.50" y2="390.60" stroke="#333" stroke-width="1.0"/>
<text x="89.50" y="400.25" font-size="6.8" text-anchor="middle">0</text>
<line x1="118.60" y1="387.50" x2="118.60" y2="390.60" stroke="#333" stroke-width="1.0"/>
<text x="118.60" y="400.25" font-size="6.8" text-anchor="middle">10</text>
<line x1="147.70" y1="387.50" x2="147.70" y2="390.60" stroke="#333" stroke-width="1.0"/>
<text x="147.70" y="400.25" font-size="6.8" text-anchor="middle">20</text>
<line x1="176.80" y1="387.50" x2="176.80" y2="390.60" stroke="#333" stroke-width="1.0"/>
<text x="176.80" y="400.25" font-size="6.8" text-anchor="middle">30</text>
<line x1="205.90" y1="387.50" x2="205.90" y2="390.60" stroke="#333" stroke-width="1.0"/>
<text x="205.90" y="400.25" font-size="6.8" text-anchor="middle">40</text>
<line x1="235.00" y1="387.50" x2="235.00" y2="390.60" stroke="#333" stroke-width="1.0"/>
<text x="235.00" y="400.25" font-size="6.8" text-anchor="middle">50</text>
<text x="162.65" y="412.90" font-size="9" text-anchor="middle" textLength="48.5" lengthAdjust="spacingAndGlyphs" style="stroke-width:0.2px">Time in months</text>
<text x="0" y="0" font-size="9.0" text-anchor="middle" textLength="58.8" lengthAdjust="spacingAndGlyphs" transform="translate(8.2 365.1) rotate(-90)">TET2, IL-6R p.D358</text>
<text x="273.40" y="278.70" font-size="11.5" color="#111" font-weight="bold">E</text>
<text x="284.40" y="290.82" font-size="7" textLength="86.4" lengthAdjust="spacingAndGlyphs">CH positive, IL-6R D358 D/D</text>
<text x="284.40" y="303.52" font-size="7" textLength="107.9" lengthAdjust="spacingAndGlyphs">CH positive, IL-6R D358 A/D or A/A</text>
<text x="284.40" y="315.72" font-size="7" textLength="37" lengthAdjust="spacingAndGlyphs">CH negative</text>
<line x1="430.60" y1="282.00" x2="430.60" y2="314.50" stroke="#222" stroke-width="1.0" stroke-dasharray="1.6 1.6"/>
<line x1="430.90" y1="288.50" x2="464.00" y2="288.50" stroke="#2a2a2a" stroke-width="1.0"/>
<line x1="430.90" y1="286.90" x2="430.90" y2="290.10" stroke="#2a2a2a" stroke-width="1.0"/>
<line x1="464.00" y1="286.90" x2="464.00" y2="290.10" stroke="#2a2a2a" stroke-width="1.0"/>
<circle cx="447.50" cy="288.50" r="1.5" fill="#b5132f"/>
<line x1="427.30" y1="298.50" x2="456.60" y2="298.50" stroke="#2a2a2a" stroke-width="1.0"/>
<line x1="427.30" y1="296.90" x2="427.30" y2="300.10" stroke="#2a2a2a" stroke-width="1.0"/>
<line x1="456.60" y1="296.90" x2="456.60" y2="300.10" stroke="#2a2a2a" stroke-width="1.0"/>
<circle cx="441.60" cy="298.50" r="1.9" fill="#b5132f"/>
<circle cx="430.60" cy="308.60" r="2.7" fill="#b5132f"/>
<line x1="404.30" y1="314.50" x2="484.80" y2="314.50" stroke="#333" stroke-width="1.4"/>
<line x1="408.62" y1="314.50" x2="408.62" y2="317.00" stroke="#333" stroke-width="1.0"/>
<line x1="414.41" y1="314.50" x2="414.41" y2="317.00" stroke="#333" stroke-width="1.0"/>
<line x1="419.29" y1="314.50" x2="419.29" y2="317.00" stroke="#333" stroke-width="1.0"/>
<line x1="423.53" y1="314.50" x2="423.53" y2="317.00" stroke="#333" stroke-width="1.0"/>
<line x1="427.26" y1="314.50" x2="427.26" y2="317.00" stroke="#333" stroke-width="1.0"/>
<line x1="430.60" y1="314.50" x2="430.60" y2="317.00" stroke="#333" stroke-width="1.0"/>
<line x1="452.58" y1="314.50" x2="452.58" y2="317.00" stroke="#333" stroke-width="1.0"/>
<line x1="465.43" y1="314.50" x2="465.43" y2="317.00" stroke="#333" stroke-width="1.0"/>
<line x1="474.55" y1="314.50" x2="474.55" y2="317.00" stroke="#333" stroke-width="1.0"/>
<line x1="481.62" y1="314.50" x2="481.62" y2="317.00" stroke="#333" stroke-width="1.0"/>
<text x="408.62" y="327.24" font-size="6.5" text-anchor="middle">0.5</text>
<text x="430.60" y="327.24" font-size="6.5" text-anchor="middle">1.0</text>
<text x="452.58" y="327.24" font-size="6.5" text-anchor="middle">2.0</text>
<text x="481.62" y="327.24" font-size="6.5" text-anchor="middle">5.0</text>
<text x="444.35" y="339.10" font-size="8.2" text-anchor="middle" textLength="66.90000000000003" lengthAdjust="spacingAndGlyphs" style="stroke-width:0.2px">Hazard ratio (95%-CI)</text>
<text x="489.90" y="283.18" font-size="6.6" textLength="31" lengthAdjust="spacingAndGlyphs">Number of</text>
<text x="489.90" y="291.14" font-size="6.5" textLength="22" lengthAdjust="spacingAndGlyphs">patients</text>
<circle cx="492.70" cy="296.20" r="1.0" fill="#111"/>
<text x="498.50" y="298.43" font-size="6.2">50</text>
<circle cx="492.70" cy="301.10" r="1.35" fill="#111"/>
<text x="498.50" y="303.33" font-size="6.2">100</text>
<circle cx="492.70" cy="306.00" r="1.75" fill="#111"/>
<text x="498.50" y="308.23" font-size="6.2">200</text>
<circle cx="492.70" cy="312.60" r="2.5" fill="#111"/>
<text x="498.50" y="314.83" font-size="6.2">500</text>
<text x="273.40" y="367.60" font-size="11.5" color="#111" font-weight="bold">F</text>
<text x="284.40" y="381.12" font-size="7" textLength="97" lengthAdjust="spacingAndGlyphs">TET2 mutated, IL-6R D358 D/D</text>
<text x="284.40" y="391.62" font-size="7" textLength="115.5" lengthAdjust="spacingAndGlyphs">TET2 mutated, IL-6R D358 A/D or A/A</text>
<text x="284.40" y="401.72" font-size="7" textLength="42.5" lengthAdjust="spacingAndGlyphs">TET2 wildtype</text>
<line x1="433.90" y1="372.80" x2="433.90" y2="405.10" stroke="#222" stroke-width="1.0" stroke-dasharray="1.6 1.6"/>
<line x1="435.80" y1="378.50" x2="474.40" y2="378.50" stroke="#2a2a2a" stroke-width="1.0"/>
<line x1="435.80" y1="376.90" x2="435.80" y2="380.10" stroke="#2a2a2a" stroke-width="1.0"/>
<line x1="474.40" y1="376.90" x2="474.40" y2="380.10" stroke="#2a2a2a" stroke-width="1.0"/>
<circle cx="455.00" cy="378.50" r="1.1" fill="#b5132f"/>
<line x1="425.60" y1="388.50" x2="468.70" y2="388.50" stroke="#2a2a2a" stroke-width="1.0"/>
<line x1="425.60" y1="386.90" x2="425.60" y2="390.10" stroke="#2a2a2a" stroke-width="1.0"/>
<line x1="468.70" y1="386.90" x2="468.70" y2="390.10" stroke="#2a2a2a" stroke-width="1.0"/>
<circle cx="446.40" cy="388.50" r="1.3" fill="#b5132f"/>
<circle cx="433.90" cy="399.10" r="2.9" fill="#b5132f"/>
<line x1="409.50" y1="405.10" x2="484.30" y2="405.10" stroke="#333" stroke-width="1.4"/>
<line x1="413.67" y1="405.10" x2="413.67" y2="407.60" stroke="#333" stroke-width="1.0"/>
<line x1="418.99" y1="405.10" x2="418.99" y2="407.60" stroke="#333" stroke-width="1.0"/>
<line x1="423.49" y1="405.10" x2="423.49" y2="407.60" stroke="#333" stroke-width="1.0"/>
<line x1="427.39" y1="405.10" x2="427.39" y2="407.60" stroke="#333" stroke-width="1.0"/>
<line x1="430.83" y1="405.10" x2="430.83" y2="407.60" stroke="#333" stroke-width="1.0"/>
<line x1="433.90" y1="405.10" x2="433.90" y2="407.60" stroke="#333" stroke-width="1.0"/>
<line x1="454.13" y1="405.10" x2="454.13" y2="407.60" stroke="#333" stroke-width="1.0"/>
<line x1="465.96" y1="405.10" x2="465.96" y2="407.60" stroke="#333" stroke-width="1.0"/>
<line x1="474.36" y1="405.10" x2="474.36" y2="407.60" stroke="#333" stroke-width="1.0"/>
<line x1="480.87" y1="405.10" x2="480.87" y2="407.60" stroke="#333" stroke-width="1.0"/>
<text x="413.67" y="417.54" font-size="6.5" text-anchor="middle">0.5</text>
<text x="433.90" y="417.54" font-size="6.5" text-anchor="middle">1.0</text>
<text x="454.13" y="417.54" font-size="6.5" text-anchor="middle">2.0</text>
<text x="480.87" y="417.54" font-size="6.5" text-anchor="middle">5.0</text>
<text x="447.10" y="429.50" font-size="8.2" text-anchor="middle" textLength="66.19999999999999" lengthAdjust="spacingAndGlyphs" style="stroke-width:0.2px">Hazard ratio (95%-CI)</text>
<text x="489.90" y="371.38" font-size="6.6" textLength="31" lengthAdjust="spacingAndGlyphs">Number of</text>
<text x="489.90" y="379.34" font-size="6.5" textLength="22" lengthAdjust="spacingAndGlyphs">patients</text>
<circle cx="492.70" cy="384.40" r="1.0" fill="#111"/>
<text x="498.50" y="386.63" font-size="6.2">50</text>
<circle cx="492.70" cy="389.30" r="1.35" fill="#111"/>
<text x="498.50" y="391.53" font-size="6.2">100</text>
<circle cx="492.70" cy="394.20" r="1.75" fill="#111"/>
<text x="498.50" y="396.43" font-size="6.2">200</text>
<circle cx="492.70" cy="400.80" r="2.5" fill="#111"/>
<text x="498.50" y="403.03" font-size="6.2">500</text>
</svg></body></html>
